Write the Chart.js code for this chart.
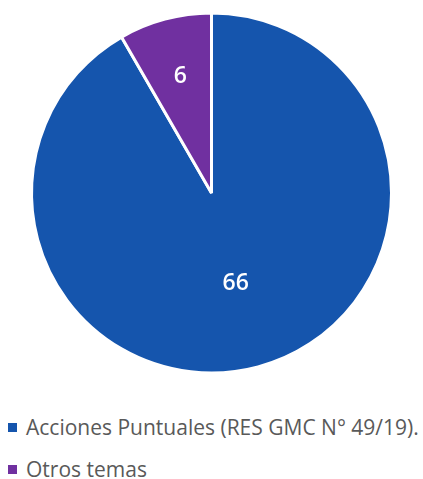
<!DOCTYPE html>
<html>
<head>
<meta charset="utf-8">
<script src="https://cdn.jsdelivr.net/npm/chart.js@4/dist/chart.umd.min.js"></script>
<style>
  html, body { margin: 0; padding: 0; background: #fff; }
  #wrap { position: relative; width: 423px; height: 479px; }
  #pie { position: absolute; left: 0; top: 0; }
  .leg { position: absolute; left: 8px; font-family: 'Open Sans', sans-serif; font-size: 21px; line-height: 24px; color: #595959; white-space: nowrap; }
  .leg i { display: inline-block; width: 9px; height: 9px; margin-right: 9px; vertical-align: 3px; }
</style>
</head>
<body>
<div id="wrap">
  <canvas id="pie" width="423" height="400"></canvas>
  <div id="legend"></div>
</div>
<script>
const categories = ['Acciones Puntuales (RES GMC N° 49/19).', 'Otros temas'];
const values = [66, 6];
const colors = ['#1555AD', '#7030A0'];
const labelPos = [0.52, 0.67]; // label distance as share of radius

// legend rows
const legendTops = [415, 457];
document.getElementById('legend').innerHTML = categories.map((c, i) =>
  '<div class="leg" style="top:' + legendTops[i] + 'px"><i style="background:' + colors[i] + '"></i>' + c + '</div>'
).join('');

// draw the values inside the slices
const sliceLabels = {
  id: 'sliceLabels',
  afterDatasetsDraw(chart) {
    const ctx = chart.ctx;
    const meta = chart.getDatasetMeta(0);
    ctx.save();
    ctx.fillStyle = '#fff';
    ctx.font = '600 23px "Open Sans", sans-serif';
    ctx.textAlign = 'center';
    ctx.textBaseline = 'middle';
    meta.data.forEach((arc, i) => {
      const a = (arc.startAngle + arc.endAngle) / 2;
      const r = arc.outerRadius * labelPos[i];
      ctx.fillText(String(values[i]), arc.x + Math.cos(a) * r, arc.y + Math.sin(a) * r);
    });
    ctx.restore();
  }
};

new Chart(document.getElementById('pie'), {
  type: 'pie',
  data: {
    labels: categories,
    datasets: [{
      data: values,
      backgroundColor: colors,
      borderColor: '#fff',
      borderWidth: 3,
    }],
  },
  options: {
    responsive: false,
    animation: false,
    layout: { padding: { left: 30, top: 11, right: 30, bottom: 25 } },
    plugins: { legend: { display: false }, tooltip: { enabled: false } },
  },
  plugins: [sliceLabels],
});
</script>
</body>
</html>
